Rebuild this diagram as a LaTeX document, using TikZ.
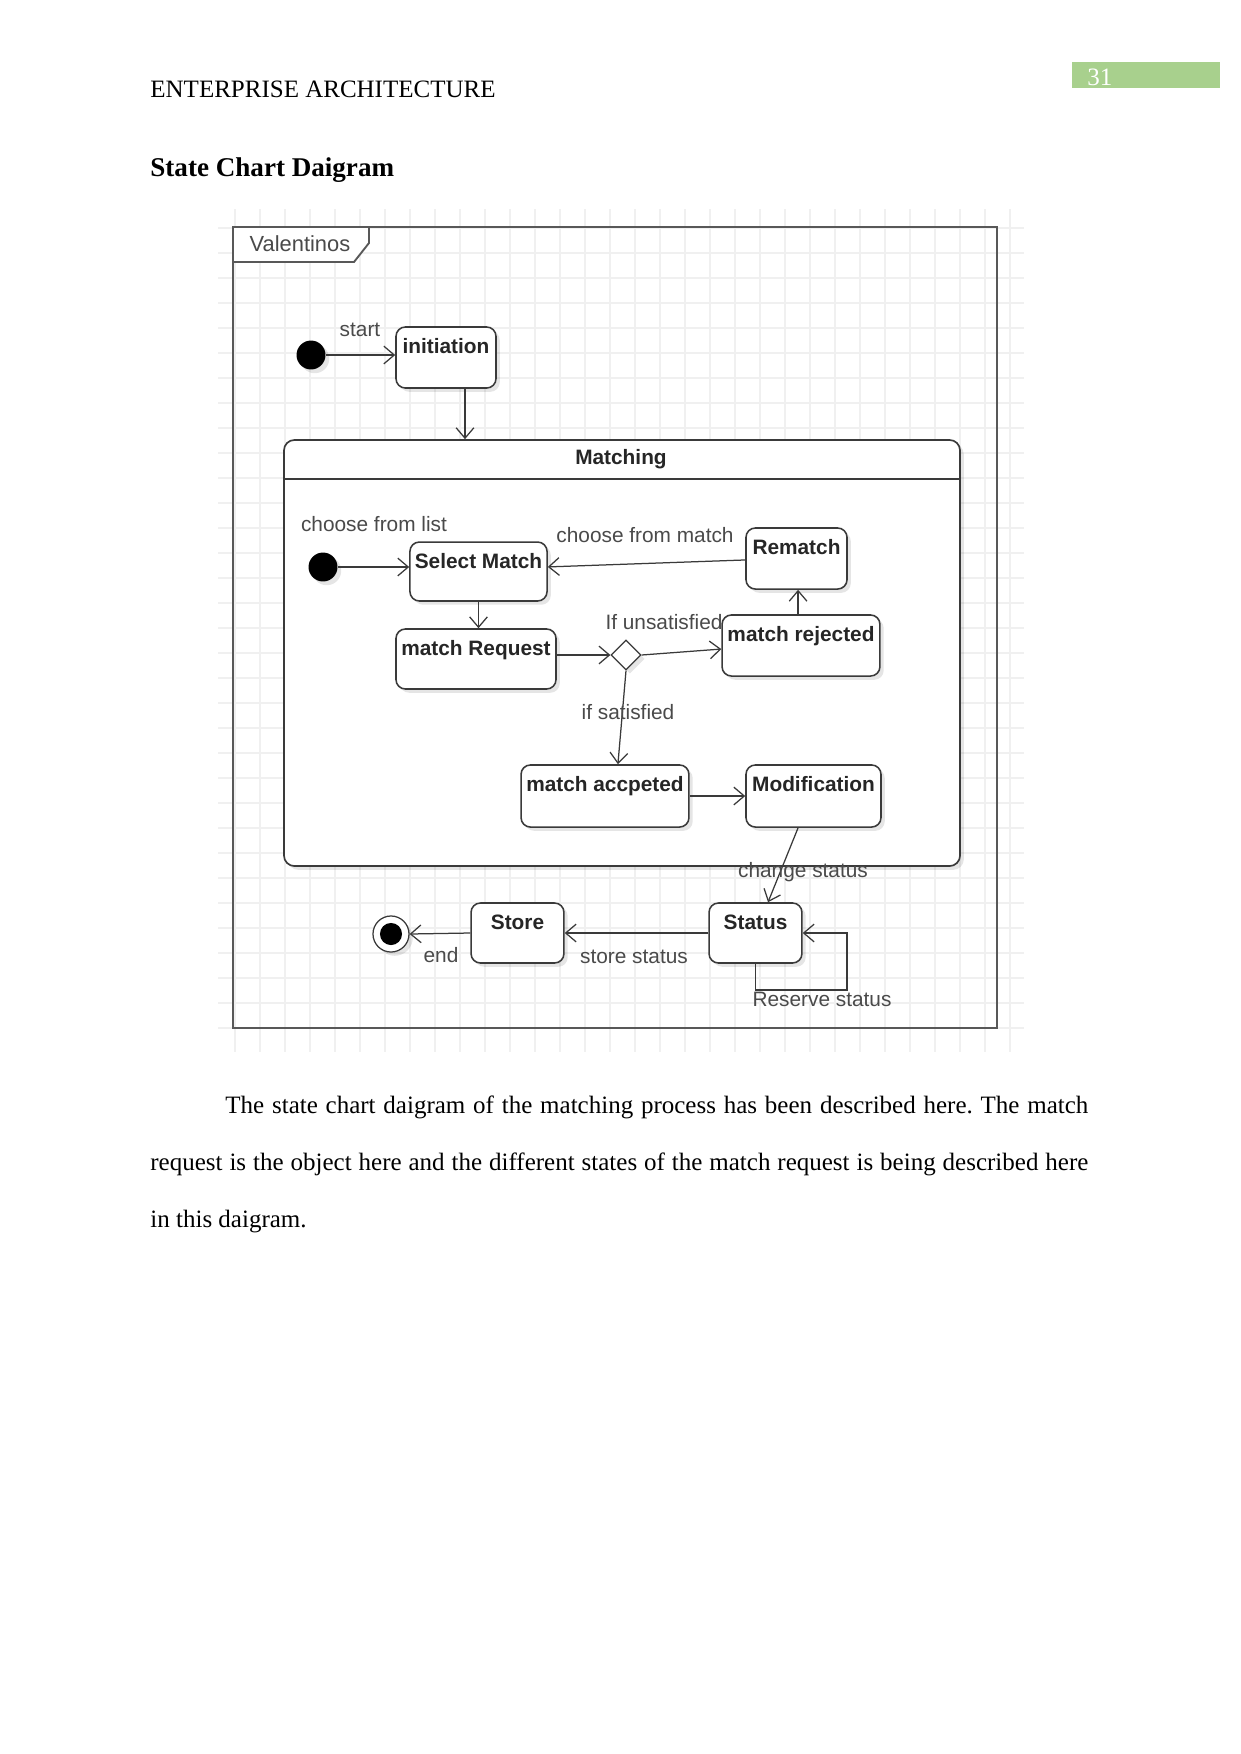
\documentclass[tikz,border=0pt]{standalone}
\usepackage{fontspec}
\setmainfont{Liberation Serif}
\newfontfamily\diagfont{Liberation Sans}
\usetikzlibrary{arrows.meta,shapes.geometric,calc,shadows}
\definecolor{ln}{HTML}{3A3A3A}
\definecolor{tx}{HTML}{4A4A4A}
\definecolor{grn}{RGB}{168,208,141}
\definecolor{gridc}{HTML}{F0F0F0}
\begin{document}
\begin{tikzpicture}[x=0.48pt,y=-0.48pt,
  arr/.style={draw=ln, line width=0.6pt, -{Straight Barb[length=5pt,width=8.5pt]}},
  shd/.style={drop shadow={shadow xshift=1.8pt, shadow yshift=-1.8pt, opacity=0.10, fill=black}},
  stbox/.style={draw=ln, line width=0.75pt, rounded corners=4.5pt, fill=white, shd, inner sep=0pt},
  tl/.style={font=\diagfont\bfseries\fontsize{10}{12}\selectfont, text=black!85, anchor=base, yshift=-13.2pt, inner sep=0pt},
  lab/.style={font=\diagfont\fontsize{10}{12}\selectfont, text=tx, inner sep=0pt},
  dotst/.style={circle, fill=black, minimum size=13.9pt, inner sep=0pt, shd},
]
\useasboundingbox (0,0) rectangle (1241,1754);
\fill[white] (0,0) rectangle (1241,1754);

% header
\node[anchor=base west, inner sep=0pt, font=\fontsize{12}{14}\selectfont] (hdr) at (150,97) {ENTERPRISE ARCHITECTURE};
\node[fill=grn, minimum width=71pt, minimum height=12.5pt, anchor=north west, inner sep=0pt] (pg) at (1072,62) {};
\node[anchor=base west, inner sep=0pt, text=white, font=\fontsize{12}{14}\selectfont] (pgn) at (1087,85) {31};
\node[anchor=base west, inner sep=0pt, font=\bfseries\fontsize{13}{15}\selectfont] (title) at (150,176) {State Chart Daigram};

% grid
\foreach \gx in {235,260,...,1010} \draw[gridc, line width=0.5pt] (\gx,209) -- (\gx,1052);
\foreach \gy in {228,253,...,1040} \draw[gridc, line width=0.5pt] (218,\gy) -- (1024,\gy);

% frame
\node[draw=ln!85, line width=1.1pt, minimum width=366.7pt, minimum height=384.5pt, inner sep=0pt] (frame) at (615,627.5) {};
\draw[draw=ln!85, line width=0.9pt, fill=white] (233,227) -- (369,227) -- (369,243) -- (354,262) -- (233,262) -- cycle;
\node[lab, font=\diagfont\fontsize{10.5}{12}\selectfont] (valt) at (300,244) {Valentinos};

% top part
\node[dotst] (s0) at (311,355) {};
\node[stbox, minimum width=48pt, minimum height=29.3pt, label={[tl]north:initiation}] (init) at (446,357.5) {};
\draw[arr] (s0) -- (s0 -| init.west);
\node[lab] (lstart) at (360,330) {start};

% Matching composite
\node[draw=ln, line width=0.8pt, rounded corners=5pt, fill=white, shd, minimum width=324.5pt, minimum height=204.5pt, inner sep=0pt] (matching) at (622,653) {};
\coordinate (hl) at (0,479);
\draw[ln, line width=0.8pt] (matching.west |- hl) -- (matching.east |- hl);
\node[font=\diagfont\bfseries\fontsize{10}{12}\selectfont, text=black!85, inner sep=0pt] (mtitle) at (621,459) {Matching};
\coordinate (ix) at (465,0);
\draw[arr] (init.south -| ix) -- (matching.north -| ix);

% inner states
\node[dotst] (s1) at (323,567) {};
\node[stbox, minimum width=65.8pt, minimum height=28.3pt, label={[tl]north:Select Match}] (selm) at (478.5,571.5) {};
\node[stbox, minimum width=48.5pt, minimum height=29.3pt, label={[tl]north:Rematch}] (rem) at (796.5,558.5) {};
\node[stbox, minimum width=76.8pt, minimum height=28.8pt, label={[tl]north:match Request}] (mreq) at (476,659) {};
\node[stbox, minimum width=75.8pt, minimum height=29.3pt, label={[tl]north:match rejected}] (mrej) at (801,645.5) {};
\node[diamond, draw=ln, line width=0.6pt, fill=white, minimum size=14.4pt, inner sep=0pt, shd] (dia) at (626,655) {};
\node[stbox, minimum width=80.6pt, minimum height=29.8pt, label={[tl]north:match accpeted}] (macc) at (605,796) {};
\node[stbox, minimum width=64.8pt, minimum height=29.8pt, label={[tl]north:Modification}] (mod) at (813.5,796) {};

\draw[arr] (s1) -- (s1 -| selm.west);
\draw[arr] ([yshift=-0.7pt]rem.west) -- ([yshift=2.2pt]selm.east);
\draw[arr] (selm.south) -- (selm.south |- mreq.north);
\draw[arr] (dia -| mreq.east) -- (dia.west);
\draw[arr] (dia.east) -- ([yshift=-1.7pt]mrej.west);
\draw[arr] ([xshift=-1.4pt]mrej.north) -- ([xshift=-1.4pt]mrej.north |- rem.south);
\draw[arr] (dia.south) -- ([xshift=6.2pt]macc.north);
\draw[arr] (macc.east) -- (macc.east -| mod.west);

\node[lab] (lcfl) at (374,524) {choose from list};
\node[lab] (lcfm) at (645,535) {choose from match};
\node[lab] (lunsat) at (664,622) {If unsatisfied};
\node[lab] (lsat) at (628,712) {if satisfied};

% bottom part
\node[stbox, minimum width=44.6pt, minimum height=28.8pt, label={[tl]north:Status}] (status) at (755.5,933) {};
\node[stbox, minimum width=44.6pt, minimum height=28.8pt, label={[tl]north:Store}] (store) at (517.5,933) {};
\node[circle, draw=ln, line width=0.6pt, fill=white, minimum size=17.3pt, inner sep=0pt, shd,
      path picture={\fill[black] (path picture bounding box.center) circle (5.3pt);}] (endn) at (391,934) {};

\draw[arr] ([xshift=-7.4pt]mod.south) -- ([xshift=6pt]status.north);
\draw[arr] (status.west) -- (status.west -| store.east);
\draw[arr] (store.west) -- (endn.east);
\coordinate (lp) at (847,990);
\draw[arr] (status.south) |- (lp) |- (status.east);

\node[lab] (lchg) at (803,872) {change status};
\node[lab] (lstore) at (634,957) {store status};
\node[lab] (lend) at (441,955) {end};
\node[lab] (lres) at (822,999) {Reserve status};

% body text
\node[anchor=base west, inner sep=0pt, text width=450.2pt, align=justify,
      font=\fontsize{12}{27.4}\selectfont] (body) at (150,1113)
{\frenchspacing\hyphenpenalty=10000\parindent=36pt\hspace*{36pt}The state chart daigram of the matching process has been described here. The match\linebreak request is the object here and the different states of the match request is being described here\linebreak in this daigram.};
\end{tikzpicture}
\end{document}
